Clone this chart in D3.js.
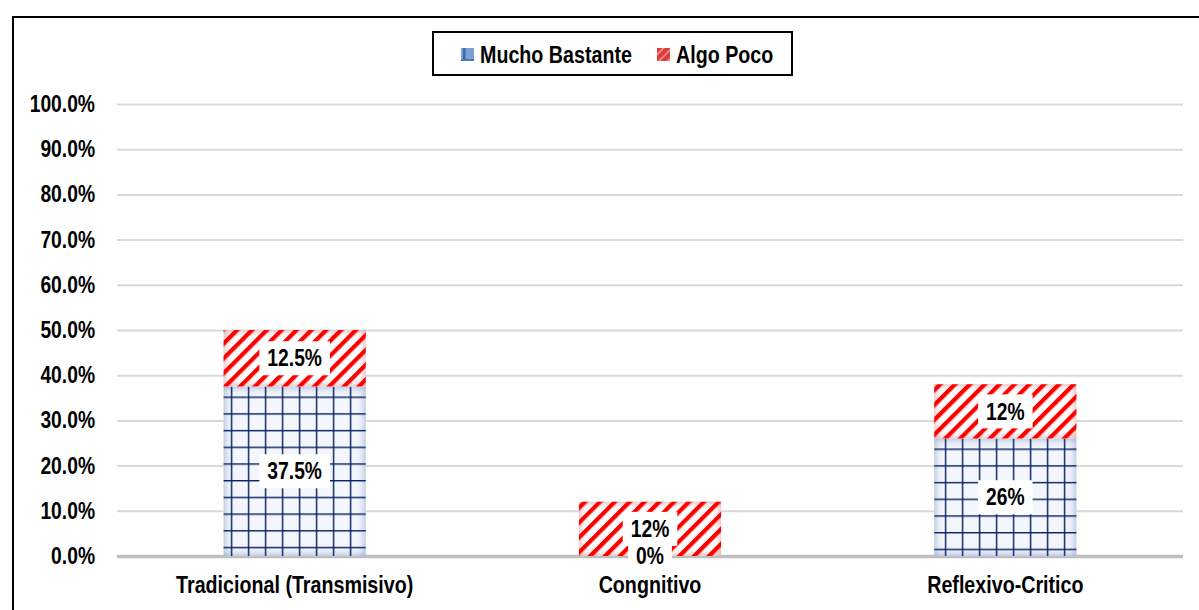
<!DOCTYPE html>
<html><head><meta charset="utf-8">
<script src="https://cdn.jsdelivr.net/npm/d3@7"></script>
<style>body{margin:0;background:#fff;overflow:hidden} svg{display:block}</style>
</head><body><svg id="c" width="1199" height="610"></svg>
<script>
// ---- data ----
const categories = ["Tradicional (Transmisivo)", "Congnitivo", "Reflexivo-Critico"];
const seriesNames = ["Mucho Bastante", "Algo Poco"];
const muchoBastante = [37.5, 0, 26];
const algoPoco = [12.5, 12, 12];
const muchoLabels = ["37.5%", "0%", "26%"];
const algoLabels = ["12.5%", "12%", "12%"];
const yTicks = [0, 10, 20, 30, 40, 50, 60, 70, 80, 90, 100];

// Arial-Narrow look: Liberation Sans Bold compressed horizontally
const FONT = '"Liberation Sans", Arial, sans-serif';
const SX = 0.82;

const svg = d3.select("#c");
const W = 1199, H = 610;
const pLeft = 117, pRight = 1183, pTop = 104, pBottom = 556;

const x = d3.scaleBand().domain(categories).range([pLeft, pRight]).paddingInner(0.6).paddingOuter(0.3);
const y = d3.scaleLinear().domain([0, 100]).range([pBottom, pTop]);

const defs = svg.append("defs");
function glow(id, color, sd){
  const f = defs.append("filter").attr("id", id).attr("x", "-20%").attr("y", "-20%").attr("width", "140%").attr("height", "140%");
  f.append("feFlood").attr("flood-color", color).attr("result", "f");
  f.append("feComposite").attr("in", "f").attr("in2", "SourceAlpha").attr("operator", "out").attr("result", "o");
  f.append("feGaussianBlur").attr("in", "o").attr("stdDeviation", sd).attr("result", "b");
  f.append("feComposite").attr("in", "b").attr("in2", "SourceAlpha").attr("operator", "in").attr("result", "s");
  const m = f.append("feMerge");
  m.append("feMergeNode").attr("in", "SourceGraphic");
  m.append("feMergeNode").attr("in", "s");
}
glow("glowBlue", "#6f94cd", 5);
glow("glowRed", "#d97474", 4.5);

const sp = defs.append("pattern").attr("id", "stripes").attr("patternUnits", "userSpaceOnUse")
  .attr("width", 10.5).attr("height", 10.5).attr("patternTransform", "rotate(45)");
sp.append("rect").attr("x", 0).attr("y", 0).attr("width", 4.2).attr("height", 10.5).attr("fill", "#ff0000");

// outer frame
svg.append("path").attr("d", `M13,${H+5} L13,17 L${W+5},17`).attr("fill", "none").attr("stroke", "#000").attr("stroke-width", 2);

// grid + y axis
const yAxis = d3.axisLeft(y).tickValues(yTicks).tickFormat(d => d.toFixed(1) + "%")
  .tickSizeInner(-(pRight - pLeft)).tickSizeOuter(0).tickPadding(22);
const gy = svg.append("g").attr("transform", `translate(${pLeft},0)`).call(yAxis);
gy.select(".domain").remove();
gy.selectAll(".tick line").attr("stroke", "#d9d9d9").attr("stroke-width", 2)
  .filter(d => d === 0).attr("stroke", "#bfbfbf").attr("stroke-width", 3.4);
gy.selectAll(".tick text").attr("font-family", FONT).attr("font-weight", "bold").attr("font-size", 23.5).attr("fill", "#000")
  .attr("x", -(pLeft - 95) / SX).attr("transform", `scale(${SX},1)`);

// x axis labels
const xAxis = d3.axisBottom(x).tickSize(0).tickPadding(20);
const gx = svg.append("g").attr("transform", `translate(0,${pBottom})`).call(xAxis);
gx.select(".domain").remove();
gx.selectAll(".tick text").attr("font-family", FONT).attr("font-weight", "bold").attr("font-size", 24).attr("fill", "#000")
  .attr("transform", `scale(${SX},1)`);

// bars
const bw = x.bandwidth();
const barsG = svg.append("g");
categories.forEach((c, i) => {
  const x0 = x(c);
  const bTop = y(muchoBastante[i]), bBot = y(0);
  if (muchoBastante[i] > 0) {
    const pid = "grid" + i;
    const gp = defs.append("pattern").attr("id", pid).attr("patternUnits", "userSpaceOnUse")
      .attr("x", 9.8).attr("y", bTop + 10).attr("width", 17).attr("height", 16.7);
    gp.append("line").attr("x1", 0.7).attr("x2", 0.7).attr("y1", 0).attr("y2", 16.7).attr("stroke", "#0b2466").attr("stroke-width", 1.5);
    gp.append("line").attr("x1", 0).attr("x2", 17).attr("y1", 0.7).attr("y2", 0.7).attr("stroke", "#0b2466").attr("stroke-width", 1.5);
    barsG.append("rect").attr("x", x0).attr("y", bTop).attr("width", bw).attr("height", bBot - bTop)
      .attr("fill", "#f3f6fc").attr("filter", "url(#glowBlue)");
    barsG.append("rect").attr("x", x0).attr("y", bTop).attr("width", bw).attr("height", bBot - bTop)
      .attr("fill", `url(#${pid})`);
  }
  const rTop = y(muchoBastante[i] + algoPoco[i]), rBot = y(muchoBastante[i]);
  barsG.append("rect").attr("x", x0).attr("y", rTop).attr("width", bw).attr("height", rBot - rTop)
    .attr("fill", "#ffffff").attr("filter", "url(#glowRed)");
  barsG.append("rect").attr("x", x0).attr("y", rTop).attr("width", bw).attr("height", rBot - rTop)
    .attr("fill", "url(#stripes)");
});

// value labels
const labelsG = svg.append("g");
const labs = [];
categories.forEach((c, i) => {
  const cx = x(c) + bw / 2;
  labs.push({cx, cy: (y(0) + y(muchoBastante[i])) / 2, t: muchoLabels[i]});
  labs.push({cx, cy: (y(muchoBastante[i]) + y(muchoBastante[i] + algoPoco[i])) / 2, t: algoLabels[i]});
});
const boxes = labelsG.append("g"), texts = labelsG.append("g");
labs.forEach(l => {
  const t = texts.append("g").attr("transform", `translate(${l.cx},${l.cy}) scale(${SX},1)`)
    .append("text").attr("dy", "0.35em").attr("text-anchor", "middle")
    .attr("font-family", FONT).attr("font-weight", "bold").attr("font-size", 23.5).attr("fill", "#000").text(l.t);
  const w = t.node().getComputedTextLength() * SX;
  boxes.append("rect").attr("x", l.cx - w / 2 - 8).attr("y", l.cy - 17).attr("width", w + 16).attr("height", 34).attr("fill", "#fff");
});

// legend
const lg = svg.append("g");
lg.append("rect").attr("x", 433).attr("y", 32).attr("width", 359).attr("height", 43).attr("fill", "#fff").attr("stroke", "#000").attr("stroke-width", 2);
const legItems = [{name: seriesNames[0], sx: 461, tx: 480, kind: "blue"}, {name: seriesNames[1], sx: 657, tx: 676, kind: "red"}];
const lsp = defs.append("pattern").attr("id", "legStripes").attr("patternUnits", "userSpaceOnUse")
  .attr("width", 6).attr("height", 6).attr("patternTransform", "rotate(45)");
lsp.append("rect").attr("width", 6).attr("height", 6).attr("fill", "#e03a3a");
lsp.append("rect").attr("x", 4.5).attr("width", 1.5).attr("height", 6).attr("fill", "#f0a0a0");
legItems.forEach(it => {
  if (it.kind === "blue") {
    lg.append("rect").attr("x", it.sx).attr("y", 48).attr("width", 13).attr("height", 13).attr("fill", "#7da1d4");
    lg.append("rect").attr("x", it.sx + 2).attr("y", 48).attr("width", 2.5).attr("height", 13).attr("fill", "#3f67aa");
    lg.append("rect").attr("x", it.sx).attr("y", 59).attr("width", 13).attr("height", 2).attr("fill", "#4f76b8");
  } else {
    lg.append("rect").attr("x", it.sx).attr("y", 48).attr("width", 13).attr("height", 13).attr("fill", "url(#legStripes)");
  }
  lg.append("g").attr("transform", `translate(${it.tx},54.5) scale(${SX},1)`)
    .append("text").attr("dy", "0.35em").attr("font-family", FONT).attr("font-weight", "bold")
    .attr("font-size", 24).attr("fill", "#000").text(it.name);
});
</script></body></html>
